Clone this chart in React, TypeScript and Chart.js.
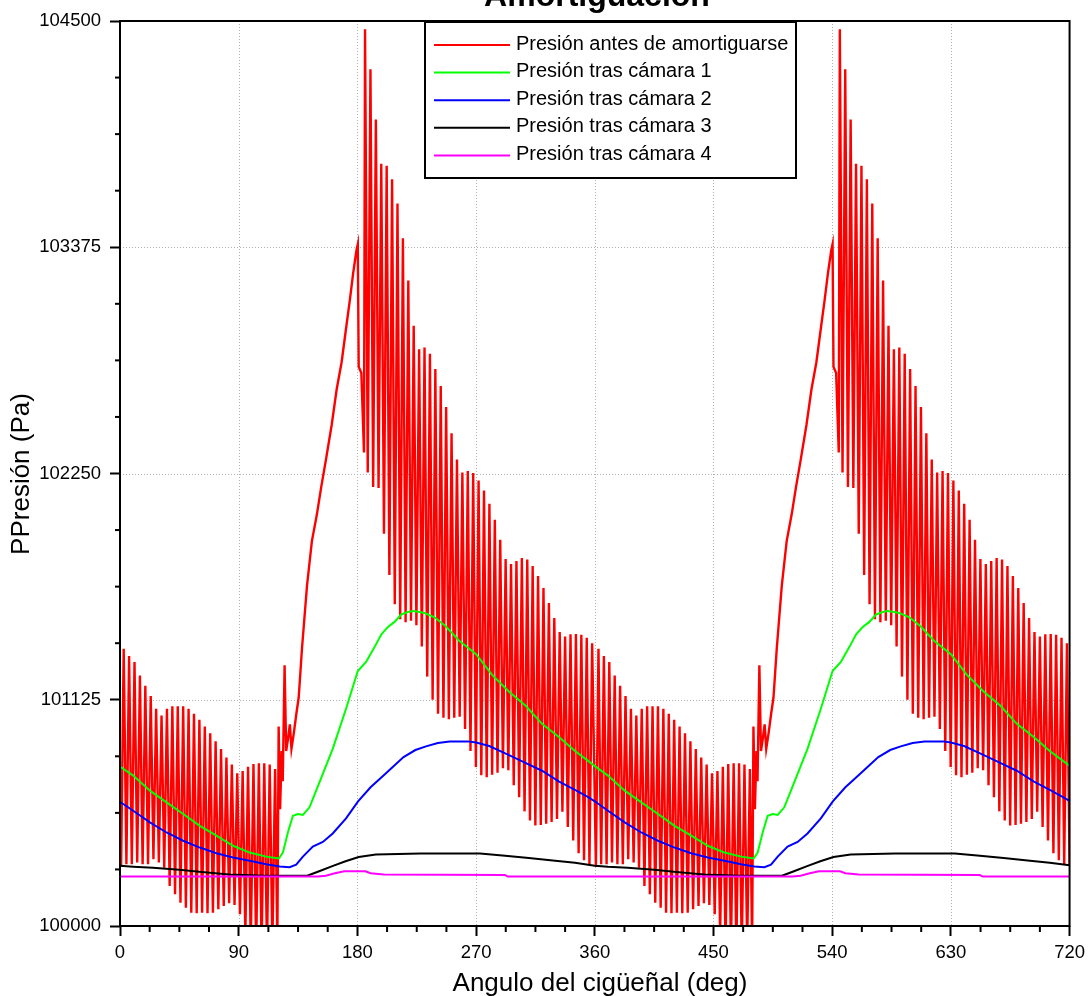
import React, { useEffect, useRef } from "react";
import { Chart, registerables } from "chart.js";

Chart.register(...registerables);

type Pt = [number, number];

const FONT = "'Liberation Sans', Arial, Helvetica, sans-serif";

const chartTitle = "Amortiguación";
const xAxisTitle = "Angulo del cigüeñal (deg)";
const yAxisTitle = "PPresión (Pa)";

const seriesLabels = [
  "Presión antes de amortiguarse",
  "Presión tras cámara 1",
  "Presión tras cámara 2",
  "Presión tras cámara 3",
  "Presión tras cámara 4",
];
const seriesColors = ["#ff0000", "#00ff00", "#0000ff", "#000000", "#ff00ff"];
const seriesWidths = [2.4, 2, 2, 2, 2];

const xTicks = [0, 90, 180, 270, 360, 450, 540, 630, 720];
const yTicks = [100000, 101125, 102250, 103375, 104500];
const xMinorTicks = [22.5, 45, 67.5, 112.5, 135, 157.5, 202.5, 225, 247.5, 292.5, 315, 337.5, 382.5, 405, 427.5, 472.5, 495, 517.5, 562.5, 585, 607.5, 652.5, 675, 697.5];
const yMinorTicks = [100281.25, 100562.5, 100843.75, 101406.25, 101687.5, 101968.75, 102531.25, 102812.5, 103093.75, 103656.25, 103937.5, 104218.75];

// Red: pressure before damping, first engine cycle (0-360 deg)
const redCycle1: Pt[] = [
  [0, 100731], [0.85, 100295],
  [2.8, 101379], [4.85, 100307], [6.9, 101343], [8.95, 100307], [11.0, 101313], [13.05, 100316],
  [15.1, 101245], [17.15, 100307], [19.2, 101195], [21.25, 100307], [23.3, 101143], [25.35, 100332],
  [27.4, 101080], [29.45, 100316], [31.5, 101047], [33.55, 100290], [35.6, 101080], [37.65, 100199],
  [39.7, 101093], [41.75, 100158], [43.8, 101093], [45.85, 100116], [47.9, 101093], [49.95, 100091],
  [52.0, 101080], [54.05, 100066], [56.1, 101055], [58.15, 100063], [60.2, 101025], [62.25, 100066],
  [64.3, 100992], [66.35, 100063], [68.4, 100958], [70.45, 100066], [72.5, 100918], [74.55, 100083],
  [76.6, 100880], [78.65, 100099], [80.7, 100838], [82.75, 100113], [84.8, 100803], [86.85, 100105],
  [88.9, 100760], [90.95, 100058], [93.0, 100770], [95.05, 99960], [97.1, 100792], [99.15, 99900],
  [101.2, 100805], [103.25, 99880], [105.3, 100809], [107.35, 99880], [109.4, 100809], [111.45, 99880],
  [113.5, 100803], [115.55, 99900], [117.6, 100781], [119.3, 99900],
  [120.3, 100992], [121.4, 100581], [122.6, 100870], [123.4, 100720], [124.8, 101296], [126.0, 100870],
  [127.5, 100936], [128.8, 101003], [130.0, 100881], [131.8, 100959], [133.8, 101059], [135.5, 101136],
  [138.0, 101381], [141.8, 101692], [145.5, 101914], [149.3, 102047], [152.5, 102180], [156.0, 102313],
  [160.5, 102491], [164.3, 102669], [168.0, 102802], [171.8, 102991], [174.3, 103113], [176.8, 103246],
  [179.3, 103360], [180.3, 103390], [181.0, 102781], [183.0, 102750], [185.0, 102354],
  [185.8, 104459], [187.85, 102255], [189.9, 104260], [191.95, 102183], [194.0, 104010], [196.05, 102178],
  [198.1, 103790], [200.15, 101950], [202.2, 103780], [204.25, 101745], [206.3, 103713], [208.35, 101600],
  [210.4, 103592], [212.45, 101525], [214.5, 103420], [216.55, 101510], [218.6, 103210], [220.65, 101518],
  [222.7, 102985], [224.75, 101495], [226.8, 102868], [228.85, 101390], [230.9, 102876], [232.95, 101240],
  [235.0, 102845], [237.05, 101125], [239.1, 102770], [241.15, 101055], [243.2, 102685], [245.25, 101035],
  [247.3, 102580], [249.35, 101028], [251.4, 102450], [253.45, 101035], [255.5, 102320], [257.55, 101040],
  [259.6, 102255], [261.65, 100980], [263.7, 102262], [265.75, 100870], [267.8, 102252], [269.85, 100790],
  [271.9, 102215], [273.95, 100750], [276.0, 102165], [278.05, 100740], [280.1, 102100], [282.15, 100752],
  [284.2, 102020], [286.25, 100762], [288.3, 101920], [290.35, 100785], [292.4, 101825], [294.45, 100775],
  [296.5, 101800], [298.55, 100700], [300.6, 101815], [302.65, 100640], [304.7, 101830], [306.75, 100570],
  [308.8, 101822], [310.85, 100525], [312.9, 101790], [314.95, 100500], [317.0, 101740], [319.05, 100502],
  [321.1, 101680], [323.15, 100508], [325.2, 101606], [327.25, 100517], [329.3, 101532], [331.35, 100532],
  [333.4, 101462], [335.45, 100568], [337.5, 101440], [339.55, 100492], [341.6, 101450], [343.65, 100425],
  [345.7, 101452], [347.75, 100362], [349.8, 101448], [351.85, 100327], [353.9, 101433], [355.95, 100308],
  [358.0, 101406],
];

// Red: second engine cycle (360-720 deg)
const redCycle2: Pt[] = [
  [360.85, 100295],
  [362.8, 101379], [364.85, 100307], [366.9, 101343], [368.95, 100307], [371.0, 101313], [373.05, 100316],
  [375.1, 101245], [377.15, 100307], [379.2, 101195], [381.25, 100307], [383.3, 101143], [385.35, 100332],
  [387.4, 101080], [389.45, 100316], [391.5, 101047], [393.55, 100290], [395.6, 101080], [397.65, 100199],
  [399.7, 101093], [401.75, 100158], [403.8, 101093], [405.85, 100116], [407.9, 101093], [409.95, 100091],
  [412.0, 101080], [414.05, 100066], [416.1, 101055], [418.15, 100063], [420.2, 101025], [422.25, 100066],
  [424.3, 100992], [426.35, 100063], [428.4, 100958], [430.45, 100066], [432.5, 100918], [434.55, 100083],
  [436.6, 100880], [438.65, 100099], [440.7, 100838], [442.75, 100113], [444.8, 100803], [446.85, 100105],
  [448.9, 100760], [450.95, 100058], [453.0, 100770], [455.05, 99960], [457.1, 100792], [459.15, 99900],
  [461.2, 100805], [463.25, 99880], [465.3, 100809], [467.35, 99880], [469.4, 100809], [471.45, 99880],
  [473.5, 100803], [475.55, 99900], [477.6, 100781], [479.3, 99900],
  [480.3, 100992], [481.4, 100581], [482.6, 100870], [483.4, 100720], [484.8, 101296], [486.0, 100870],
  [487.5, 100936], [488.8, 101003], [490.0, 100881], [491.8, 100959], [493.8, 101059], [495.5, 101136],
  [498.0, 101381], [501.8, 101692], [505.5, 101914], [509.3, 102047], [512.5, 102180], [516.0, 102313],
  [520.5, 102491], [524.3, 102669], [528.0, 102802], [531.8, 102991], [534.3, 103113], [536.8, 103246],
  [539.3, 103360], [540.3, 103390], [541.0, 102781], [543.0, 102750], [545.0, 102354],
  [545.8, 104459], [547.85, 102255], [549.9, 104260], [551.95, 102183], [554.0, 104010], [556.05, 102178],
  [558.1, 103790], [560.15, 101950], [562.2, 103780], [564.25, 101745], [566.3, 103713], [568.35, 101600],
  [570.4, 103592], [572.45, 101525], [574.5, 103420], [576.55, 101510], [578.6, 103210], [580.65, 101518],
  [582.7, 102985], [584.75, 101495], [586.8, 102868], [588.85, 101390], [590.9, 102876], [592.95, 101240],
  [595.0, 102845], [597.05, 101125], [599.1, 102770], [601.15, 101055], [603.2, 102685], [605.25, 101035],
  [607.3, 102580], [609.35, 101028], [611.4, 102450], [613.45, 101035], [615.5, 102320], [617.55, 101040],
  [619.6, 102255], [621.65, 100980], [623.7, 102262], [625.75, 100870], [627.8, 102252], [629.85, 100790],
  [631.9, 102215], [633.95, 100750], [636.0, 102165], [638.05, 100740], [640.1, 102100], [642.15, 100752],
  [644.2, 102020], [646.25, 100762], [648.3, 101920], [650.35, 100785], [652.4, 101825], [654.45, 100775],
  [656.5, 101800], [658.55, 100700], [660.6, 101815], [662.65, 100640], [664.7, 101830], [666.75, 100570],
  [668.8, 101822], [670.85, 100525], [672.9, 101790], [674.95, 100500], [677.0, 101740], [679.05, 100502],
  [681.1, 101680], [683.15, 100508], [685.2, 101606], [687.25, 100517], [689.3, 101532], [691.35, 100532],
  [693.4, 101462], [695.45, 100568], [697.5, 101440], [699.55, 100492], [701.6, 101450], [703.65, 100425],
  [705.7, 101452], [707.75, 100362], [709.8, 101448], [711.85, 100327], [713.9, 101433], [715.95, 100308],
  [718.0, 101406], [720, 100300],
];

const greenCamara1: Pt[] = [
  [0, 100793], [10, 100748], [22.7, 100673], [35.3, 100615], [47.9, 100557], [60.5, 100498], [73.1, 100449],
  [85.7, 100399], [98.3, 100365], [110.9, 100345], [120.5, 100336], [123.5, 100365], [127.3, 100465],
  [131.1, 100548], [134.9, 100557], [138.7, 100552], [143.7, 100590], [151.3, 100715], [161.3, 100881],
  [171.4, 101080], [180.3, 101268], [186.6, 101313], [193.1, 101388], [198.2, 101450], [203.2, 101487],
  [208.2, 101512], [213.3, 101549], [218.3, 101561], [222.1, 101566], [225.9, 101563], [230.9, 101556],
  [238.5, 101535], [247, 101490], [257, 101420], [270, 101352], [282, 101250], [295, 101165],
  [307.6, 101095], [320, 101005], [332.8, 100940], [345, 100870], [355, 100821],
  [360, 100795], [370, 100748], [382.7, 100673], [395.3, 100615], [407.9, 100557], [420.5, 100498], [433.1, 100449],
  [445.7, 100399], [458.3, 100365], [470.9, 100345], [480.5, 100336], [483.5, 100365], [487.3, 100465],
  [491.1, 100548], [494.9, 100557], [498.7, 100552], [503.7, 100590], [511.3, 100715], [521.3, 100881],
  [531.4, 101080], [540.3, 101268], [546.6, 101313], [553.1, 101388], [558.2, 101450], [563.2, 101487],
  [568.2, 101512], [573.3, 101549], [578.3, 101561], [582.1, 101566], [585.9, 101563], [590.9, 101556],
  [598.5, 101535], [607, 101490], [617, 101420], [630, 101352], [642, 101250], [655, 101165],
  [667.6, 101095], [680, 101005], [692.8, 100940], [705, 100870], [715, 100821], [720, 100797],
];

const blueCamara2: Pt[] = [
  [0, 100618], [10, 100573], [22.7, 100515], [35.3, 100465], [47.9, 100424], [60.5, 100390], [73.1, 100362],
  [85.7, 100341], [98.3, 100324], [110.9, 100307], [121, 100296], [128.6, 100292], [133.6, 100305],
  [138.7, 100345], [146.2, 100395], [153.8, 100418], [161.3, 100460], [171.4, 100535], [180.5, 100620],
  [190, 100690], [200, 100750], [207, 100792], [215, 100840], [224, 100875], [232, 100893], [241, 100910],
  [250, 100917], [257, 100918], [264, 100918], [270, 100912], [280, 100895], [295, 100850], [307, 100812],
  [320, 100772], [333, 100718], [345, 100677], [355, 100641],
  [360, 100620], [370, 100573], [382.7, 100515], [395.3, 100465], [407.9, 100424], [420.5, 100390], [433.1, 100362],
  [445.7, 100341], [458.3, 100324], [470.9, 100307], [481, 100296], [488.6, 100292], [493.6, 100305],
  [498.7, 100345], [506.2, 100395], [513.8, 100418], [521.3, 100460], [531.4, 100535], [540.5, 100620],
  [550, 100690], [560, 100750], [567, 100792], [575, 100840], [584, 100875], [592, 100893], [601, 100910],
  [610, 100917], [617, 100918], [624, 100918], [630, 100912], [640, 100895], [655, 100850], [667, 100812],
  [680, 100772], [693, 100718], [705, 100677], [715, 100641], [720, 100622],
];

const blackCamara3: Pt[] = [
  [0, 100299], [10, 100295], [25, 100290], [45, 100280], [62, 100268], [83, 100256], [110, 100250],
  [142, 100250], [151, 100272], [161, 100298], [171, 100322], [181, 100343], [194, 100355], [228, 100361],
  [273, 100361], [290, 100350], [310, 100338], [330, 100325], [345, 100315],
  [360, 100300], [370, 100295], [385, 100290], [405, 100280], [422, 100268], [443, 100256], [470, 100250],
  [502, 100250], [511, 100272], [521, 100298], [531, 100322], [541, 100343], [554, 100355], [588, 100361],
  [633, 100361], [650, 100350], [670, 100338], [690, 100325], [705, 100315], [720, 100302],
];

const magentaCamara4: Pt[] = [
  [0, 100246], [150, 100246], [156, 100250], [163, 100262], [170, 100272], [186, 100272], [190, 100262],
  [200, 100256], [292, 100253], [294, 100246],
  [360, 100246], [510, 100246], [516, 100250], [523, 100262], [530, 100272], [546, 100272], [550, 100262],
  [560, 100256], [652, 100253], [654, 100246], [720, 100246],
];

const toXY = (pts: Pt[]) => pts.map(([x, y]) => ({ x, y }));

const decorPlugin = {
  id: "decor",
  beforeDatasetsDraw(chart: any) {
    const { ctx, chartArea: a, scales } = chart;
    const x = scales.x;
    const y = scales.y;
    ctx.save();
    ctx.strokeStyle = "#b0b0b0";
    ctx.lineWidth = 1;
    ctx.setLineDash([1, 2]);
    xTicks.slice(1, -1).forEach((v) => {
      const px = Math.round(x.getPixelForValue(v)) + 0.5;
      ctx.beginPath();
      ctx.moveTo(px, a.top);
      ctx.lineTo(px, a.bottom);
      ctx.stroke();
    });
    yTicks.slice(1, -1).forEach((v) => {
      const py = Math.round(y.getPixelForValue(v)) + 0.5;
      ctx.beginPath();
      ctx.moveTo(a.left, py);
      ctx.lineTo(a.right, py);
      ctx.stroke();
    });
    ctx.restore();
  },
  afterDraw(chart: any) {
    const { ctx, chartArea: a, scales } = chart;
    const x = scales.x;
    const y = scales.y;
    ctx.save();
    // plot frame
    ctx.strokeStyle = "#000";
    ctx.lineWidth = 2;
    ctx.setLineDash([]);
    ctx.strokeRect(a.left, a.top, a.right - a.left, a.bottom - a.top);
    // minor ticks
    ctx.lineWidth = 2;
    xMinorTicks.forEach((v) => {
      const px = x.getPixelForValue(v);
      ctx.beginPath();
      ctx.moveTo(px, a.bottom);
      ctx.lineTo(px, a.bottom + 6);
      ctx.stroke();
    });
    yMinorTicks.forEach((v) => {
      const py = y.getPixelForValue(v);
      ctx.beginPath();
      ctx.moveTo(a.left - 5, py);
      ctx.lineTo(a.left, py);
      ctx.stroke();
    });
    // legend
    const lx = 425, ly = 22, lw = 371, lh = 156;
    ctx.fillStyle = "#fff";
    ctx.fillRect(lx, ly, lw, lh);
    ctx.strokeStyle = "#000";
    ctx.lineWidth = 2;
    ctx.strokeRect(lx, ly, lw, lh);
    ctx.font = `20px ${FONT}`;
    ctx.textAlign = "left";
    ctx.textBaseline = "alphabetic";
    chart.data.datasets.forEach((ds: any, i: number) => {
      const rowY = 45 + i * 27.6;
      ctx.strokeStyle = ds.borderColor;
      ctx.lineWidth = 2;
      ctx.beginPath();
      ctx.moveTo(434, rowY);
      ctx.lineTo(510, rowY);
      ctx.stroke();
      ctx.fillStyle = "#000";
      ctx.fillText(ds.label, 516, rowY + 4.5);
    });
    // titles
    ctx.fillStyle = "#000";
    ctx.textAlign = "center";
    ctx.textBaseline = "alphabetic";
    ctx.font = `bold 32px ${FONT}`;
    ctx.fillText(chartTitle, 597, 6);
    ctx.font = `26px ${FONT}`;
    ctx.fillText(xAxisTitle, 600, 991);
    ctx.translate(29, 474);
    ctx.rotate(-Math.PI / 2);
    ctx.fillText(yAxisTitle, 0, 0);
    ctx.restore();
  },
};

export default function App() {
  const ref = useRef<HTMLCanvasElement>(null);
  useEffect(() => {
    if (!ref.current) return;
    const series = [
      [...redCycle1, ...redCycle2],
      greenCamara1,
      blueCamara2,
      blackCamara3,
      magentaCamara4,
    ];
    const chart = new Chart(ref.current, {
      type: "line",
      data: {
        datasets: series.map((pts, i) => ({
          label: seriesLabels[i],
          data: toXY(pts),
          borderColor: seriesColors[i],
          backgroundColor: seriesColors[i],
          borderWidth: seriesWidths[i],
          pointRadius: 0,
          tension: 0,
          fill: false,
          order: 5 - i,
          clip: 0,
        })),
      },
      options: {
        animation: false,
        responsive: false,
        maintainAspectRatio: false,
        devicePixelRatio: 1,
        events: [],
        parsing: false,
        normalized: true,
        layout: { padding: { top: 21, right: 19, left: 0, bottom: 0 } },
        plugins: {
          legend: { display: false },
          title: { display: false },
          tooltip: { enabled: false },
        },
        scales: {
          x: {
            type: "linear",
            min: 0,
            max: 720,
            afterBuildTicks: (s: any) => {
              s.ticks = xTicks.map((v) => ({ value: v }));
            },
            afterFit: (s: any) => {
              s.height = 70;
            },
            ticks: {
              color: "#000",
              font: { size: 18.5, family: FONT },
              padding: 6,
              maxRotation: 0,
              autoSkip: false,
              callback: (v: any) => String(v),
            },
            grid: {
              display: true,
              drawOnChartArea: false,
              drawTicks: true,
              tickLength: 10,
              tickColor: "#000",
              tickWidth: 2,
            },
            border: { display: false },
          },
          y: {
            type: "linear",
            min: 100000,
            max: 104500,
            afterBuildTicks: (s: any) => {
              s.ticks = yTicks.map((v) => ({ value: v }));
            },
            afterFit: (s: any) => {
              s.width = 120;
            },
            ticks: {
              color: "#000",
              font: { size: 18.5, family: FONT },
              padding: 9,
              autoSkip: false,
              callback: (v: any) => String(v),
            },
            grid: {
              display: true,
              drawOnChartArea: false,
              drawTicks: true,
              tickLength: 10,
              tickColor: "#000",
              tickWidth: 2,
            },
            border: { display: false },
          },
        },
      } as any,
      plugins: [decorPlugin],
    });
    return () => chart.destroy();
  }, []);
  return (
    <div style={{ position: "absolute", left: 0, top: 0, width: 1091, height: 996, background: "#fff" }}>
      <canvas ref={ref} width={1091} height={996} style={{ display: "block", width: 1091, height: 996 }} />
    </div>
  );
}
